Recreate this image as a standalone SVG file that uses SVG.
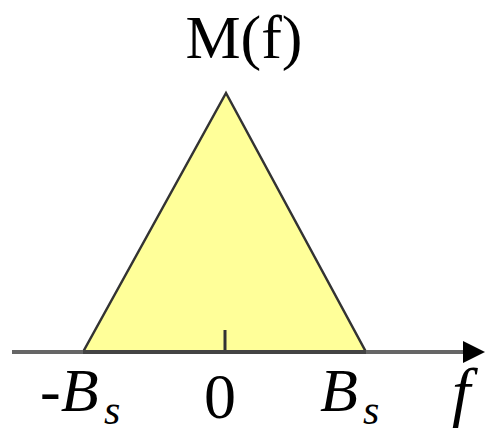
<svg xmlns="http://www.w3.org/2000/svg" width="493" height="433" viewBox="0 0 493 433">
<style>
.t{font-family:"Liberation Serif","Times New Roman",serif;fill:#000}
.i{font-style:italic}
</style>
<rect width="493" height="433" fill="#fff"/>
<g id="triangle">
<polygon points="83,352 226,93 366,352" fill="#ffff99" stroke="#333" stroke-width="2.5" stroke-linejoin="miter"/>
<line x1="225" y1="330" x2="225" y2="352" stroke="#333" stroke-width="3"/>
</g>
<g id="connectors">
<line x1="12" y1="352" x2="465" y2="352" stroke="#666" stroke-width="4"/>
<line x1="83" y1="352" x2="366" y2="352" stroke="#444" stroke-width="4"/>
<path d="M463,341 L485,352 L463,363 Z" fill="#000"/>
</g>
<g id="labels">
<text class="t" x="244" y="58" font-size="62" text-anchor="middle">M(f)</text>
<text class="t i" x="40" y="411" font-size="62">-B</text>
<text class="t i" x="104" y="424" font-size="42">s</text>
<text class="t" x="220" y="418" font-size="64" text-anchor="middle">0</text>
<text class="t i" x="320" y="411" font-size="62">B</text>
<text class="t i" x="363" y="424" font-size="42">s</text>
<text class="t i" x="452" y="414" font-size="66">f</text>
</g>
</svg>
